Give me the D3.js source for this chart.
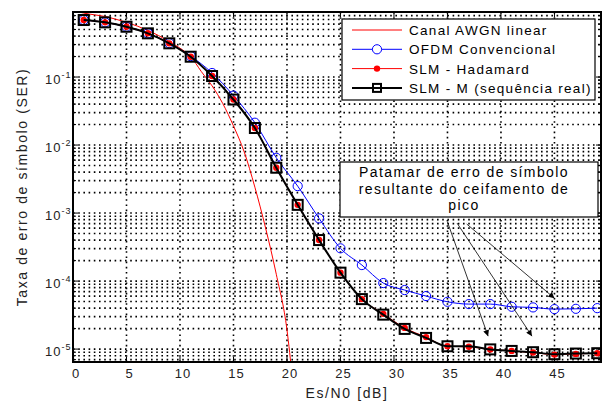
<!DOCTYPE html>
<html lang="pt">
<head>
<meta charset="UTF-8">
<title>SER x Es/N0</title>
<script src="https://d3js.org/d3.v7.min.js"></script>
<style>
    body { margin: 0; background: #fff; }
    svg { display: block; font-family: "Liberation Sans", Arial, sans-serif; }
    .grid line { stroke: #000; stroke-width: 1.6; stroke-dasharray: 1.6 3.6; }
    .tick-label { font-size: 13px; letter-spacing: 1px; fill: #222; }
    .legend text { font-size: 13.5px; letter-spacing: 1.3px; fill: #000; }
    .note text { font-size: 14px; letter-spacing: 1.4px; fill: #000; text-anchor: middle; }
    .axis-title { font-size: 14px; letter-spacing: 1.6px; fill: #222; }
</style>
</head>
<body>
<svg id="chart" width="606" height="403"></svg>
<script>
// Es/N0 [dB] onde as curvas simuladas foram medidas
const snr = [1, 3, 5, 7, 9, 11, 13, 15, 17, 19, 21, 23, 25, 27, 29, 31, 33, 35, 37, 39, 41, 43, 45, 47, 49];

// curva teorica do canal AWGN
const awgnSnr = [0, 1, 2, 3, 4, 5, 6, 7, 8, 9, 10, 11, 12, 13, 14, 15, 16, 17, 18, 19, 20, 21];
const awgnSer = [0.955, 0.871, 0.822, 0.776, 0.708, 0.638, 0.562, 0.484, 0.407, 0.331, 0.266, 0.200,
                 0.120, 0.0741, 0.0407, 0.0191, 7.94e-3, 2.40e-3, 6.03e-4, 1.26e-4, 1.91e-5, 5e-7];

const ofdmSer = [0.689, 0.637, 0.549, 0.439, 0.315, 0.203, 0.1146, 0.0534, 0.0213, 6.5e-3, 2.49e-3,
                 8.35e-4, 3.03e-4, 1.72e-4, 9.35e-5, 7.38e-5, 6.02e-5, 4.96e-5, 4.59e-5, 4.59e-5,
                 4.19e-5, 4.10e-5, 3.87e-5, 3.91e-5, 4.0e-5];

const hadamardSer = [0.689, 0.637, 0.549, 0.439, 0.313, 0.199, 0.1035, 0.0467, 0.0178, 4.64e-3, 1.32e-3,
                     4.01e-4, 1.33e-4, 5.43e-5, 3.30e-5, 2.05e-5, 1.50e-5, 1.10e-5, 1.08e-5, 9.9e-6,
                     9.4e-6, 8.9e-6, 8.3e-6, 8.5e-6, 8.7e-6];

const slmSer = [0.689, 0.637, 0.549, 0.439, 0.313, 0.199, 0.1035, 0.0467, 0.0178, 4.64e-3, 1.32e-3,
                4.01e-4, 1.33e-4, 5.43e-5, 3.21e-5, 1.98e-5, 1.46e-5, 1.10e-5, 1.10e-5, 9.9e-6,
                9.4e-6, 9.0e-6, 8.4e-6, 8.6e-6, 8.7e-6];

const xTicks = [0, 5, 10, 15, 20, 25, 30, 35, 40, 45];
const yTicks = [1e-1, 1e-2, 1e-3, 1e-4, 1e-5];

const legendLabels = ["Canal AWGN linear", "OFDM Convencional", "SLM - Hadamard", "SLM - M (sequência real)"];
const noteLines = ["Patamar de erro de símbolo", "resultante do ceifamento de", "pico"];
// setas: [x0, y0, x1, y1] em unidades do grafico
const arrows = [
    [35.0, 7.4e-4, 38.8, 1.55e-5],
    [35.9, 7.1e-4, 42.9, 1.55e-5],
    [36.8, 6.9e-4, 45.0, 5.6e-5]
];

const mLeft = 73, mTop = 12, mRight = 601, mBottom = 362;
const svg = d3.select("#chart");

const x = d3.scaleLinear().domain([0, 49.35]).range([mLeft, mRight]);
const y = d3.scaleLog().domain([6.46e-6, 0.904]).range([mBottom, mTop]);

const defs = svg.append("defs");
defs.append("clipPath").attr("id", "plotClip")
    .append("rect").attr("x", mLeft).attr("y", mTop).attr("width", mRight - mLeft).attr("height", mBottom - mTop);

defs.append("marker")
    .attr("id", "arrowHead")
    .attr("viewBox", "0 0 10 10")
    .attr("refX", 10).attr("refY", 5)
    .attr("markerWidth", 7).attr("markerHeight", 6)
    .attr("markerUnits", "userSpaceOnUse")
    .attr("orient", "auto")
    .append("path").attr("d", "M0,0L10,5L0,10Z").attr("fill", "#000");

// grade pontilhada
const grid = svg.append("g").attr("class", "grid");
grid.selectAll(".vgrid").data(xTicks.filter(d => d > 0))
    .join("line")
    .attr("x1", d => x(d)).attr("x2", d => x(d))
    .attr("y1", mTop).attr("y2", mBottom);

const minorY = [];
for (let e = -6; e <= -1; e++) {
    for (let k = 1; k <= 9; k++) {
        const v = k * Math.pow(10, e);
        if (v > y.domain()[0] && v < y.domain()[1]) minorY.push(v);
    }
}
grid.selectAll(".hgrid").data(minorY)
    .join("line")
    .attr("x1", mLeft).attr("x2", mRight)
    .attr("y1", d => y(d)).attr("y2", d => y(d));

// marcas internas dos eixos
const ticks = svg.append("g").attr("stroke", "#000").attr("stroke-width", 1);
ticks.selectAll(".xt").data(xTicks.filter(d => d > 0))
    .join("path")
    .attr("d", d => `M${x(d)},${mBottom}v-5M${x(d)},${mTop}v5`);
ticks.selectAll(".yt").data(minorY)
    .join("path")
    .attr("d", d => {
        const len = yTicks.includes(d) ? 5 : 3;
        return `M${mLeft},${y(d)}h${len}M${mRight},${y(d)}h-${len}`;
    });

// curvas
const plot = svg.append("g").attr("clip-path", "url(#plotClip)");

const awgnLine = d3.line().x((d, i) => x(awgnSnr[i])).y(d => y(d)).curve(d3.curveMonotoneX);
const simLine = d3.line().x((d, i) => x(snr[i])).y(d => y(d)).curve(d3.curveMonotoneX);

plot.append("path").attr("d", awgnLine(awgnSer))
    .attr("fill", "none").attr("stroke", "#ff0000").attr("stroke-width", 1);

plot.append("path").attr("d", simLine(ofdmSer))
    .attr("fill", "none").attr("stroke", "#0000ff").attr("stroke-width", 1);
plot.selectAll(".ofdm").data(ofdmSer)
    .join("circle")
    .attr("cx", (d, i) => x(snr[i])).attr("cy", d => y(d)).attr("r", 4.6)
    .attr("fill", "none").attr("stroke", "#0000ff").attr("stroke-width", 1);

plot.append("path").attr("d", simLine(hadamardSer))
    .attr("fill", "none").attr("stroke", "#ff0000").attr("stroke-width", 1);
plot.selectAll(".had").data(hadamardSer)
    .join("circle")
    .attr("cx", (d, i) => x(snr[i])).attr("cy", d => y(d)).attr("r", 3.2)
    .attr("fill", "#ff0000");

plot.append("path").attr("d", simLine(slmSer))
    .attr("fill", "none").attr("stroke", "#000").attr("stroke-width", 2);
plot.selectAll(".slm").data(slmSer)
    .join("rect")
    .attr("x", (d, i) => x(snr[i]) - 5).attr("y", d => y(d) - 5)
    .attr("width", 10).attr("height", 10)
    .attr("fill", "none").attr("stroke", "#000").attr("stroke-width", 2);

// caixa do grafico
svg.append("rect")
    .attr("x", mLeft).attr("y", mTop).attr("width", mRight - mLeft).attr("height", mBottom - mTop)
    .attr("fill", "none").attr("stroke", "#000").attr("stroke-width", 2);

// rotulos dos eixos
svg.append("g").selectAll("text").data(xTicks)
    .join("text")
    .attr("class", "tick-label")
    .attr("x", d => x(d) + 3).attr("y", 378)
    .attr("text-anchor", "middle")
    .text(d => d);

const yLab = svg.append("g").selectAll("text").data(yTicks)
    .join("text")
    .attr("class", "tick-label")
    .attr("x", 45).attr("y", d => y(d) + 7);
yLab.append("tspan").text("10");
yLab.append("tspan").attr("dy", -6).attr("font-size", 9).text(d => Math.round(Math.log10(d)));

svg.append("text").attr("class", "axis-title")
    .attr("x", 347).attr("y", 398).attr("text-anchor", "middle")
    .text("Es/N0 [dB]");

svg.append("text").attr("class", "axis-title")
    .attr("transform", "translate(27,187) rotate(-90)")
    .attr("text-anchor", "middle")
    .text("Taxa de erro de símbolo (SER)");

// legenda
const legend = svg.append("g").attr("class", "legend");
legend.append("rect")
    .attr("x", 342).attr("y", 19).attr("width", 253).attr("height", 81)
    .attr("fill", "#fff").attr("stroke", "#000").attr("stroke-width", 1.2);

const rowY = i => 30 + i * 19.3;
const styles = [
    {color: "#ff0000", width: 1},
    {color: "#0000ff", width: 1},
    {color: "#ff0000", width: 1},
    {color: "#000", width: 2}
];
legendLabels.forEach((label, i) => {
    legend.append("line")
        .attr("x1", 352).attr("x2", 402).attr("y1", rowY(i)).attr("y2", rowY(i))
        .attr("stroke", styles[i].color).attr("stroke-width", styles[i].width);
    legend.append("text").attr("x", 409).attr("y", rowY(i) + 5).text(label);
});
legend.append("circle").attr("cx", 377).attr("cy", rowY(1)).attr("r", 4.6)
    .attr("fill", "#fff").attr("stroke", "#0000ff");
legend.append("circle").attr("cx", 377).attr("cy", rowY(2)).attr("r", 3.2).attr("fill", "#ff0000");
legend.append("rect").attr("x", 373).attr("y", rowY(3) - 4).attr("width", 8).attr("height", 8)
    .attr("fill", "none").attr("stroke", "#000").attr("stroke-width", 2);

// anotacao
const note = svg.append("g").attr("class", "note");
note.append("rect")
    .attr("x", 340).attr("y", 162).attr("width", 258).attr("height", 55)
    .attr("fill", "#fff").attr("stroke", "#000").attr("stroke-width", 1.2);
note.selectAll("text").data(noteLines)
    .join("text")
    .attr("x", 464).attr("y", (d, i) => 177 + i * 16.7)
    .text(d => d);

svg.append("g").selectAll("line").data(arrows)
    .join("line")
    .attr("x1", d => x(d[0])).attr("y1", d => y(d[1]))
    .attr("x2", d => x(d[2])).attr("y2", d => y(d[3]))
    .attr("stroke", "#000").attr("stroke-width", 0.8)
    .attr("marker-end", "url(#arrowHead)");
</script>
</body>
</html>
